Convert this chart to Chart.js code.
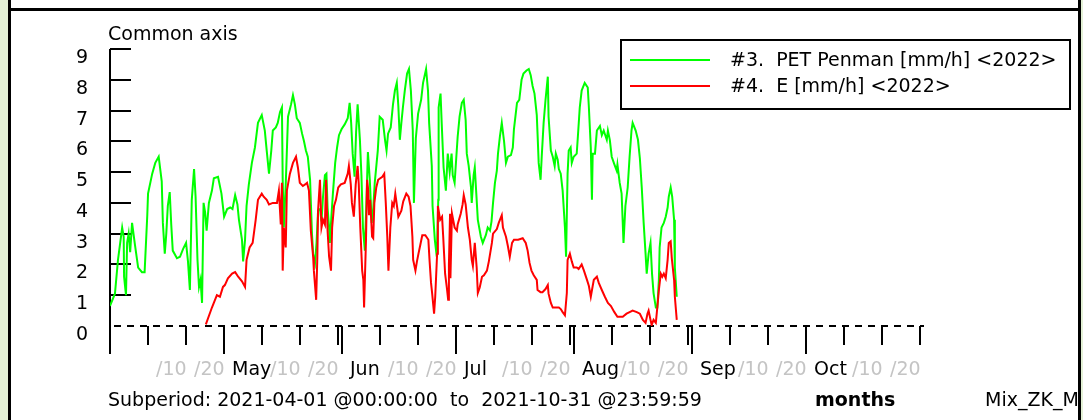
<!DOCTYPE html>
<html>
<head>
<meta charset="utf-8">
<title>PET Penman / E</title>
<script src="https://cdn.jsdelivr.net/npm/chart.js@4.4.1/dist/chart.umd.min.js"></script>
<style>
  html, body { margin: 0; padding: 0; }
  body {
    width: 1083px; height: 420px; position: relative; overflow: hidden; background: #fff;
    font-family: "DejaVu Sans", Verdana, sans-serif; font-size: 19px; line-height: 19px; color: #000;
  }
  .side { position: absolute; top: 0; height: 420px; background: #e4f1d6; }
  .rule { position: absolute; background: #000; }
  .txt { position: absolute; white-space: pre; }
  #chart { position: absolute; left: 0; top: 0; }
  #clip { position: absolute; left: 11px; top: 11px; width: 1067px; height: 409px; overflow: hidden; }
  #legend {
    position: absolute; left: 609px; top: 28px; width: 451px; height: 71px;
    box-sizing: border-box; border: 2px solid #000; background: #fff;
  }
  #legend .swatch { position: absolute; left: 8px; width: 80px; height: 2px; }
</style>
</head>
<body>
  <div class="side" style="left:0; width:8px;"></div>
  <div class="side" style="left:1081px; width:2px;"></div>
  <div class="rule" style="left:8px; top:0; width:3px; height:420px;"></div>
  <div class="rule" style="left:1078px; top:0; width:3px; height:420px;"></div>
  <div class="rule" style="left:8px; top:8px; width:1073px; height:3px;"></div>

  <canvas id="chart" width="1083" height="420"></canvas>

  <div id="clip">
    <div class="txt" style="left:97px; top:13px;">Common axis</div>
    <div id="legend">
      <div class="swatch" style="top:18px; background:#00ff00;"></div>
      <div class="swatch" style="top:44px; background:#ff0000;"></div>
      <div class="txt" style="left:108px; top:9px;">#3.  PET Penman [mm/h] &lt;2022&gt;</div>
      <div class="txt" style="left:108px; top:35px;">#4.  E [mm/h] &lt;2022&gt;</div>
    </div>
    <div class="txt" style="left:97px; top:379px;">Subperiod: 2021-04-01 @00:00:00  to  2021-10-31 @23:59:59</div>
    <div class="txt" style="left:804px; top:379px; font-weight:bold;">months</div>
    <div class="txt" style="left:974px; top:379px;">Mix_ZK_Mo</div>
  </div>

<script>
// days counted from 2021-04-01 00:00
const xMax = 214;
const yMax = 9;
const yTicks = [0, 1, 2, 3, 4, 5, 6, 7, 8, 9];

const monthNames  = ['', 'May', 'Jun', 'Jul', 'Aug', 'Sep', 'Oct'];
const monthStarts = [0, 30, 61, 91, 122, 153, 183];
const monthDays   = [30, 31, 30, 31, 31, 30, 31];
const minorOffsets = [10, 20, 30];
const minorLabels  = ['/10', '/20', ''];

// #3. PET Penman [mm/h]
const petDays = [
  0.0, 1.3, 2.1, 3.2, 3.6, 3.7, 4.2, 4.5, 4.9, 5.3, 5.8, 6.6, 7.4, 8.4, 9.1, 9.8, 10.0, 11.1, 11.9, 12.8,
  13.6, 13.9, 14.4, 14.8, 15.2, 15.7, 16.1, 16.5, 17.6, 18.4, 19.2, 20.0, 20.5, 21.0, 21.5, 22.1, 22.5, 23.0, 23.4, 23.8,
  24.2, 24.6, 25.0, 25.4, 26.0, 26.8, 27.3, 28.4, 29.3, 30.0, 30.8, 31.6, 32.2, 32.9, 33.5, 33.9, 34.7, 35.0, 35.5, 35.9,
  36.5, 37.3, 38.1, 38.9, 39.9, 40.7, 41.2, 41.8, 42.4, 42.8, 43.6, 44.1, 44.7, 45.2, 45.4, 45.7, 46.2, 46.8, 47.6, 48.1,
  48.6, 49.1, 49.9, 50.5, 51.0, 51.5, 52.0, 52.6, 53.1, 53.4, 53.9, 54.3, 54.7, 55.2, 55.6, 56.0, 56.5, 56.9, 57.2, 57.6,
  57.8, 58.2, 58.6, 59.2, 59.7, 60.2, 60.9, 61.7, 62.5, 63.0, 63.4, 63.8, 64.3, 64.7, 65.1, 65.7, 66.1, 66.5, 67.0, 67.4,
  67.8, 68.3, 68.8, 69.2, 69.6, 70.4, 70.9, 71.7, 72.3, 72.7, 73.1, 73.8, 74.4, 74.9, 75.4, 75.8, 76.2, 76.6, 77.0, 77.5,
  78.1, 78.6, 79.1, 79.6, 79.9, 80.4, 81.0, 81.8, 82.3, 83.1, 83.6, 83.9, 84.6, 84.8, 85.4, 85.9, 86.3, 86.4, 86.9, 87.2,
  87.7, 88.3, 88.8, 89.3, 89.8, 90.1, 90.6, 91.0, 91.4, 91.9, 92.5, 93.0, 93.5, 93.8, 94.3, 94.9, 95.1, 95.6, 95.9, 96.3,
  96.7, 97.5, 98.0, 98.8, 99.3, 99.9, 100.3, 100.7, 101.2, 101.7, 102.0, 102.5, 103.0, 103.6, 104.1, 104.6, 105.4, 105.9, 106.2, 107.0,
  107.6, 108.2, 108.7, 109.5, 110.1, 110.6, 111.1, 111.6, 112.2, 112.4, 112.7, 113.2, 113.5, 114.0, 114.5, 115.1, 115.3, 115.9, 116.4, 116.9,
  117.2, 117.7, 118.0, 118.5, 119.0, 119.6, 119.9, 120.3, 120.6, 121.1, 121.4, 121.9, 122.7, 123.0, 123.5, 124.0, 124.8, 125.6, 125.9, 126.4,
  126.7, 126.9, 127.5, 128.0, 128.8, 129.3, 129.8, 130.6, 130.9, 131.4, 131.9, 132.6, 133.2, 133.4, 134.0, 134.5, 134.8, 135.0, 135.5, 136.1,
  136.6, 137.1, 137.4, 138.2, 138.8, 139.3, 139.8, 140.3, 140.8, 141.1, 141.6, 142.1, 142.5, 142.9, 143.5, 143.9, 144.3, 144.5, 145.0, 145.6,
  146.1, 146.6, 146.9, 147.4, 147.8, 148.3, 148.5, 149.0
];
const petValues = [
  0.65, 1.05, 2.15, 3.2, 2.9, 1.6, 1.0, 2.7, 3.0, 2.4, 3.35, 2.6, 1.9, 1.75, 1.75, 3.6, 4.3, 4.95, 5.3, 5.5,
  4.7, 3.35, 2.35, 3.0, 3.9, 4.35, 3.3, 2.45, 2.2, 2.25, 2.5, 2.7, 2.1, 1.17, 4.1, 5.1, 4.2, 2.15, 1.27, 1.5,
  0.75, 4.0, 3.7, 3.1, 4.0, 4.4, 4.8, 4.85, 4.3, 3.55, 3.8, 3.85, 3.8, 4.25, 3.95, 3.45, 2.8, 2.1, 2.8, 3.9,
  4.6, 5.3, 5.8, 6.6, 6.85, 6.35, 5.7, 4.95, 5.7, 6.35, 6.45, 6.6, 6.95, 7.1, 4.75, 3.2, 4.6, 6.8, 7.2, 7.5,
  7.2, 6.75, 6.6, 6.25, 6.0, 5.7, 5.5, 4.75, 3.0, 2.35, 2.05, 2.7, 3.75, 3.8, 3.4, 4.2, 4.9, 4.95, 3.85, 3.2,
  2.7, 3.55, 4.3, 5.3, 5.8, 6.2, 6.4, 6.55, 6.75, 7.25, 6.6, 5.6, 4.85, 6.3, 7.2, 6.05, 4.9, 3.2, 2.45, 4.0,
  5.65, 4.75, 3.35, 3.8, 4.65, 5.7, 6.8, 6.7, 6.05, 5.7, 6.25, 6.45, 7.2, 7.65, 7.9, 7.15, 6.05, 6.6, 7.1, 7.65,
  8.2, 8.35, 7.65, 6.35, 4.0, 6.1, 6.9, 7.35, 7.9, 8.35, 7.65, 6.6, 5.2, 3.9, 2.8, 2.25, 4.1, 7.1, 7.55, 6.6,
  5.15, 4.4, 5.6, 5.0, 5.6, 4.9, 4.65, 5.4, 6.15, 6.8, 7.25, 7.35, 6.7, 5.6, 5.2, 4.5, 4.0, 4.9, 5.15, 4.3,
  3.45, 2.9, 2.7, 2.95, 3.2, 3.1, 3.4, 4.0, 4.65, 5.05, 5.6, 6.15, 6.6, 6.0, 5.3, 5.5, 5.55, 5.8, 6.4, 7.25,
  7.35, 8.0, 8.2, 8.3, 8.35, 8.15, 7.8, 7.55, 6.85, 6.25, 5.3, 4.75, 5.5, 6.6, 7.35, 8.1, 6.8, 5.7, 5.5, 5.2,
  5.6, 5.4, 5.1, 4.95, 4.4, 3.2, 2.25, 4.95, 5.7, 5.8, 5.3, 5.5, 5.6, 6.15, 7.1, 7.65, 7.9, 7.75, 7.1, 5.8,
  4.1, 5.6, 5.6, 6.35, 6.5, 6.2, 6.35, 6.05, 6.35, 6.05, 5.5, 5.25, 5.05, 5.25, 4.65, 4.3, 3.35, 2.7, 3.9, 4.5,
  5.5, 6.35, 6.6, 6.35, 6.05, 5.45, 4.5, 3.35, 2.35, 1.7, 2.35, 2.7, 1.7, 1.07, 0.6, 0.6, 1.5, 2.55, 3.2, 3.35,
  3.55, 3.85, 4.2, 4.5, 4.2, 3.45, 1.9, 0.95
];

// #4. E [mm/h]
const evapDays = [
  25.2, 26.8, 28.1, 28.9, 29.7, 30.2, 31.0, 32.1, 32.9, 33.7, 34.7, 35.5, 35.9, 36.7, 37.5, 38.3, 38.9, 39.9, 40.4, 41.2,
  41.8, 42.8, 43.9, 44.4, 44.9, 45.2, 45.4, 45.7, 46.2, 46.5, 47.3, 48.1, 48.9, 49.4, 49.9, 50.7, 51.3, 51.8, 52.3, 52.8,
  53.4, 53.6, 54.2, 54.5, 54.7, 55.2, 55.6, 56.0, 56.5, 56.8, 57.2, 57.6, 58.1, 58.4, 58.9, 59.4, 60.0, 60.7, 61.7, 62.5,
  62.8, 63.3, 63.6, 64.1, 64.6, 65.1, 65.4, 65.8, 66.3, 66.6, 66.8, 67.3, 67.6, 67.9, 68.1, 68.4, 68.9, 69.2, 69.5, 70.0,
  70.5, 71.6, 72.1, 72.5, 72.9, 73.2, 73.7, 74.2, 74.6, 75.0, 75.5, 75.8, 76.6, 77.1, 77.9, 78.5, 79.0, 79.5, 79.7, 80.3,
  80.7, 81.1, 81.6, 82.1, 82.9, 83.7, 84.0, 84.4, 84.7, 85.2, 85.5, 86.0, 86.2, 86.8, 87.3, 87.6, 88.1, 88.6, 88.9, 89.1,
  89.4, 89.5, 89.9, 90.6, 91.2, 91.4, 92.2, 92.7, 93.0, 93.5, 94.1, 94.6, 95.1, 95.4, 95.9, 96.4, 96.7, 97.2, 97.8, 98.3,
  99.1, 99.6, 100.4, 100.7, 101.7, 102.2, 103.0, 103.3, 104.1, 104.6, 105.1, 105.7, 106.2, 107.3, 108.5, 109.3, 109.8, 110.3, 110.8, 111.4,
  112.2, 112.4, 113.2, 113.7, 114.5, 115.1, 115.3, 115.9, 116.4, 117.2, 118.0, 118.5, 119.0, 119.6, 120.1, 120.3, 120.9, 121.4, 121.9, 122.7,
  123.2, 124.0, 124.6, 125.4, 125.9, 126.4, 126.9, 127.2, 128.0, 128.5, 129.3, 130.1, 130.9, 131.7, 132.6, 133.4, 134.8, 135.8, 136.6, 137.4,
  138.5, 139.3, 140.1, 140.8, 141.3, 141.6, 142.1, 142.4, 142.9, 143.5, 144.0, 144.3, 144.8, 145.2, 145.6, 146.1, 146.6, 146.9, 147.4, 147.7,
  148.3, 148.5, 149.0
];
const evapValues = [
  0.05, 0.6, 1.0, 0.95, 1.27, 1.33, 1.55, 1.7, 1.75, 1.6, 1.45, 1.27, 2.15, 2.55, 2.7, 3.45, 4.1, 4.3, 4.2, 4.1,
  3.95, 4.0, 4.0, 4.4, 3.3, 4.65, 1.8, 3.2, 2.55, 4.4, 4.95, 5.3, 5.5, 5.15, 4.65, 4.55, 4.6, 4.65, 4.4, 3.1,
  2.25, 1.8, 0.85, 2.2, 3.75, 4.75, 3.2, 3.45, 3.3, 4.75, 3.1, 2.25, 1.8, 3.2, 3.9, 4.1, 4.5, 4.6, 4.65, 4.95,
  5.2, 4.6, 4.0, 3.55, 4.6, 5.2, 4.6, 3.2, 1.8, 1.5, 0.6, 2.8, 4.75, 4.4, 3.6, 4.1, 2.9, 2.85, 4.0, 4.5,
  4.75, 4.85, 4.95, 4.0, 2.9, 1.8, 3.2, 4.0, 3.9, 4.3, 3.85, 3.55, 3.75, 4.05, 4.3, 4.2, 3.9, 2.9, 2.15, 1.8,
  2.1, 2.35, 2.65, 2.95, 2.95, 2.8, 2.15, 1.4, 1.05, 0.4, 0.95, 2.35, 3.9, 3.45, 3.55, 2.9, 1.7, 1.2, 0.85, 2.0,
  3.65, 1.55, 3.65, 3.2, 3.1, 3.3, 3.65, 3.95, 4.25, 3.95, 3.2, 2.8, 2.15, 1.95, 2.7, 1.9, 1.07, 1.25, 1.6, 1.65,
  1.8, 2.1, 2.7, 3.0, 3.15, 3.35, 3.6, 3.2, 2.9, 2.6, 2.25, 2.7, 2.8, 2.8, 2.85, 2.7, 2.45, 2.05, 1.8, 1.65,
  1.5, 1.17, 1.1, 1.1, 1.2, 1.33, 1.05, 0.75, 0.6, 0.6, 0.6, 0.55, 0.45, 0.35, 1.07, 2.15, 2.35, 2.1, 1.9, 1.9,
  1.85, 2.0, 1.8, 1.5, 1.3, 0.95, 1.3, 1.5, 1.6, 1.4, 1.17, 0.95, 0.75, 0.65, 0.45, 0.3, 0.3, 0.4, 0.45, 0.5,
  0.45, 0.4, 0.2, 0.1, 0.4, 0.5, 0.2, 0.03, 0.2, 0.1, 0.75, 1.17, 1.7, 1.6, 1.7, 1.55, 2.15, 2.7, 2.75, 2.2,
  1.5, 0.95, 0.2
];

const toPoints = (days, values) => days.map((d, i) => ({ x: d, y: values[i] }));

// axis line, inward y ticks, dashed zero line and the calendar ticks underneath
const scaleMarks = {
  id: 'scaleMarks',
  beforeDatasetsDraw(chart) {
    const { ctx } = chart;
    const xs = chart.scales.x, ys = chart.scales.y;
    const x0 = Math.round(xs.getPixelForValue(0));
    const y0 = Math.round(ys.getPixelForValue(0));
    const xEnd = Math.round(xs.getPixelForValue(xMax));

    ctx.save();
    ctx.strokeStyle = '#000';
    ctx.lineWidth = 2;
    ctx.font = '19px "DejaVu Sans", Verdana, sans-serif';

    const seg = (ax, ay, bx, by) => {
      ctx.beginPath();
      ctx.moveTo(ax, ay);
      ctx.lineTo(bx, by);
      ctx.stroke();
    };

    seg(x0, Math.round(ys.getPixelForValue(yMax)), x0, y0 + 28);

    ctx.fillStyle = '#000';
    ctx.textAlign = 'right';
    yTicks.forEach(v => {
      const py = Math.round(ys.getPixelForValue(v));
      if (v > 0) seg(x0, py, x0 + 21, py);
      ctx.fillText(String(v), x0 - 22, py + 14);
    });

    ctx.setLineDash([7, 6]);
    seg(x0 + 4, y0, xEnd, y0);
    ctx.setLineDash([]);

    ctx.textAlign = 'left';
    monthStarts.forEach((start, i) => {
      const px = Math.round(xs.getPixelForValue(start));
      if (i > 0) seg(px, y0, px, y0 + 28);
      if (monthNames[i]) {
        ctx.fillStyle = '#000';
        ctx.fillText(monthNames[i], px + 8, y0 + 49);
      }
      minorOffsets.forEach((off, k) => {
        if (off >= monthDays[i]) return;
        const mx = Math.round(xs.getPixelForValue(start + off));
        seg(mx, y0, mx, y0 + 19);
        if (minorLabels[k]) {
          ctx.fillStyle = '#c4c4c4';
          ctx.fillText(minorLabels[k], mx + 8, y0 + 49);
        }
      });
    });
    ctx.restore();
  }
};

new Chart(document.getElementById('chart'), {
  type: 'line',
  data: {
    datasets: [
      {
        label: '#3.  PET Penman [mm/h] <2022>',
        data: toPoints(petDays, petValues),
        borderColor: '#00ff00',
        borderWidth: 2,
        order: 1
      },
      {
        label: '#4.  E [mm/h] <2022>',
        data: toPoints(evapDays, evapValues),
        borderColor: '#ff0000',
        borderWidth: 2,
        order: 0
      }
    ]
  },
  options: {
    responsive: false,
    devicePixelRatio: 1,
    animation: false,
    layout: { padding: { left: 110, top: 49, right: 1083 - 924, bottom: 420 - 326 } },
    elements: { point: { radius: 0 }, line: { tension: 0 } },
    scales: {
      x: { type: 'linear', min: 0, max: xMax, display: false },
      y: { min: 0, max: yMax, display: false }
    },
    plugins: { legend: { display: false }, tooltip: { enabled: false } }
  },
  plugins: [scaleMarks]
});
</script>
</body>
</html>
